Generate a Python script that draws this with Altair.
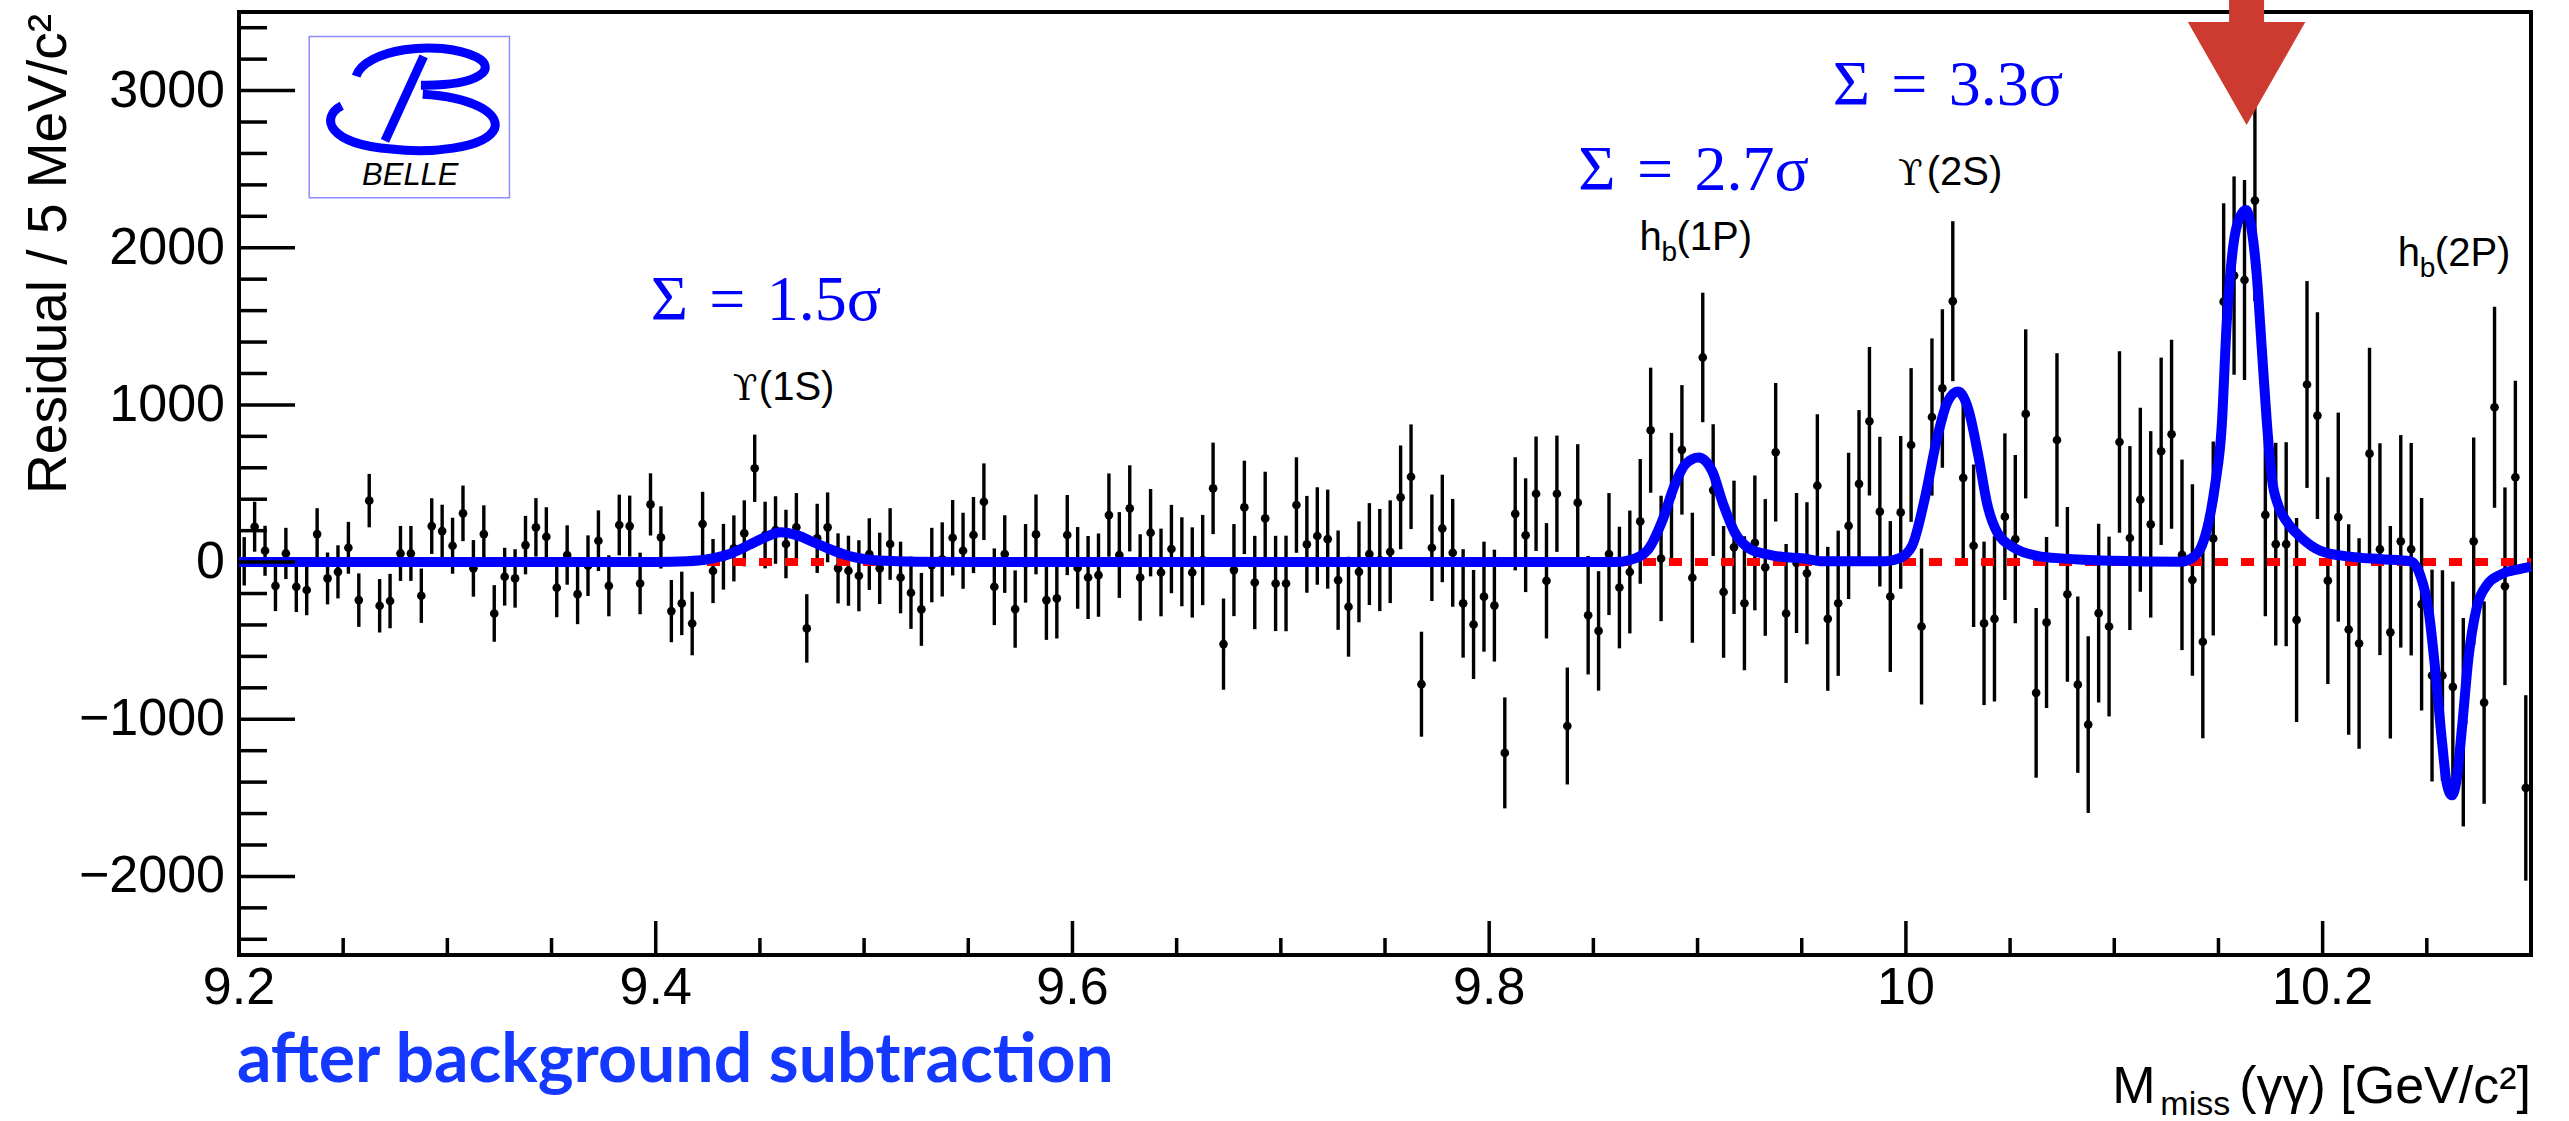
import altair as alt
import pandas as pd

# Histogram binning of the missing mass (5 MeV/c^2 bins starting at 9.2 GeV/c^2)
BIN_START = 9.2
BIN_WIDTH = 0.005

# Residual per bin after background subtraction
residual = [
    5, 225, 72, -151, 55, -157, -178, 178, -104, -62,
    91, -242, 391, -278, -248, 55, 55, -214, 229, 197,
    104, 310, -40, 178, -327, -93, -104, 108, 221, 161,
    -163, 45, -204, -23, 136, -151, 236, 229, -136, 367,
    157, -312, -263, -391, 242, -57, 34, 87, 183, 597,
    172, 204, 115, 221, -422, 151, 221, -40, -55, -87,
    51, -40, 115, -98, -195, -301, -19, 17, 155, 72,
    172, 384, -157, 51, -299, -8, 176, -242, -231, 172,
    -37, -98, -83, 299, 45, 342, -98, 187, -66, 83,
    2, -66, 13, 469, -522, -51, 348, -130, 278, -136,
    -136, 363, 113, 166, 146, -115, -284, -62, 51, 13,
    66, 412, 543, -777, 91, 214, 59, -263, -397, -220,
    -277, -1214, 307, 171, 435, -119, 435, -1043, 378, -338,
    -438, 51, -162, -63, 259, 839, 23, 420, 714, -100,
    1302, 458, -190, 94, -262, 122, -34, 699, -327, -6,
    -71, 486, -361, -262, 230, 498, 896, 321, -219, 316,
    745, -410, 923, 1105, 1660, 536, 104, -390, -361, 289,
    146, 943, -832, -384, 777, -205, -780, -1034, -325, -410,
    764, 153, 397, 240, 705, 813, 46, -114, -507, 150,
    1657, 1823, 1795, 2300, 300, 114, 114, -368, 1130, 932,
    -118, 286, -429, -518, 690, 82, -447, 132, 82, -268,
    -722, -722, -794, -1019, 132, -894, 985, -154, 540, -1437,
]

# Statistical uncertainty per bin
residual_err = [
    154, 159, 159, 161, 163, 161, 160, 165, 165, 169,
    165, 170, 170, 170, 173, 175, 175, 173, 177, 168,
    178, 177, 180, 183, 180, 184, 186, 186, 186, 188,
    188, 189, 191, 193, 193, 194, 193, 194, 196, 198,
    198, 198, 202, 202, 205, 204, 209, 210, 210, 214,
    212, 215, 218, 218, 218, 220, 222, 223, 223, 226,
    228, 227, 228, 228, 230, 232, 237, 236, 240, 242,
    242, 244, 244, 247, 246, 250, 254, 253, 255, 255,
    260, 264, 265, 265, 273, 274, 275, 278, 279, 281,
    283, 287, 287, 291, 290, 293, 297, 297, 297, 303,
    304, 304, 308, 310, 315, 316, 318, 321, 324, 325,
    327, 330, 333, 334, 339, 342, 343, 345, 347, 350,
    356, 353, 360, 362, 364, 367, 370, 372, 372, 377,
    380, 388, 387, 391, 397, 398, 399, 402, 412, 414,
    412, 419, 419, 424, 426, 429, 435, 441, 442, 445,
    452, 455, 458, 462, 465, 469, 473, 476, 480, 486,
    489, 496, 500, 504, 509, 512, 517, 520, 526, 530,
    535, 538, 540, 544, 552, 556, 561, 562, 569, 572,
    577, 585, 585, 593, 596, 601, 606, 609, 614, 617,
    626, 631, 636, 640, 645, 645, 649, 649, 658, 658,
    658, 665, 670, 670, 674, 674, 676, 676, 676, 676,
    674, 670, 670, 663, 661, 644, 640, 629, 613, 590,
]
assert len(residual) == len(residual_err)

mass = [round(BIN_START + BIN_WIDTH * (i + 0.5), 4) for i in range(len(residual))]

# Fitted signal curve (sampled)
fit_m = [
    9.200, 9.400, 9.415, 9.425, 9.435, 9.445, 9.452, 9.460, 9.468, 9.476,
    9.484, 9.492, 9.500, 9.510, 9.525, 9.550, 9.860, 9.868, 9.876, 9.883,
    9.889, 9.894, 9.9005, 9.907, 9.912, 9.918, 9.925, 9.933, 9.941, 9.950,
    9.960, 9.990, 9.997, 10.003, 10.009, 10.015, 10.020, 10.025, 10.030, 10.035,
    10.039, 10.044, 10.052, 10.063, 10.076, 10.100, 10.132, 10.137, 10.142, 10.1455,
    10.1485, 10.1515, 10.154, 10.157, 10.1604, 10.1633, 10.166, 10.1684, 10.1708, 10.1732,
    10.1756, 10.1788, 10.1828, 10.1893, 10.199, 10.212, 10.228, 10.242, 10.247, 10.251,
    10.254, 10.2573, 10.2596, 10.262, 10.2642, 10.267, 10.270, 10.274, 10.279, 10.2855,
    10.295, 10.300,
]
fit_r = [
    0, 0, 5, 18, 50, 110, 155, 190, 170, 125,
    80, 42, 20, 8, 2, 0, 0, 15, 75, 260,
    490, 620, 665, 580, 380, 185, 85, 50, 32, 25,
    5, 5, 25, 104, 400, 790, 1020, 1085, 970, 660,
    370, 185, 90, 40, 22, 8, 2, 23, 104, 266,
    500, 850, 1530, 2002, 2199, 2240, 2109, 1823, 1358, 894,
    536, 357, 257, 161, 72, 36, 18, 5, -89, -322,
    -679, -1144, -1412, -1484, -1394, -1037, -608, -286, -143, -79,
    -43, -29,
]
assert len(fit_m) == len(fit_r)

# Axis ticks
x_major = [9.2, 9.4, 9.6, 9.8, 10.0, 10.2]
x_minor = [9.25, 9.3, 9.35, 9.45, 9.5, 9.55, 9.65, 9.7, 9.75, 9.85, 9.9, 9.95,
           10.05, 10.1, 10.15, 10.25]
y_major = [-2000, -1000, 0, 1000, 2000, 3000]
y_minor = [-2400, -2200, -1800, -1600, -1400, -1200, -800, -600, -400, -200,
           200, 400, 600, 800, 1200, 1400, 1600, 1800, 2200, 2400, 2600, 2800,
           3200, 3400]

# Annotations
signif_text = ["Σ\u2004=\u20041.5σ", "Σ\u2004=\u20042.7σ", "Σ\u2004=\u20043.3σ"]
signif_m = [9.3976, 9.8428, 9.9649]
signif_r = [1541, 2369, 2911]

ups_text = ["(1S)", "(2S)"]
ups_m = [9.4370, 9.9962]
ups_paren_m = [9.4495, 10.0100]
ups_r = [1032, 2401]

hb_text = ["(1P)", "(2P)"]
hb_m = [9.8721, 10.2361]
hb_r = [1987, 1885]
hb_sub_r = [1917, 1815]

W, H = 2292, 943
XS = alt.Scale(domain=[9.2, 10.3], nice=False, zero=False)
YS = alt.Scale(domain=[-2500, 3500], nice=False, zero=False)
FONT = "Liberation Sans"
SERIF = "Liberation Serif"


def xq(field):
    return alt.X(field, type="quantitative", scale=XS, axis=None)


def yq(field):
    return alt.Y(field, type="quantitative", scale=YS, axis=None)


data = pd.DataFrame({"m": mass, "r": residual, "e": residual_err})
data["lo"] = data["r"] - data["e"]
data["hi"] = data["r"] + data["e"]

err_bars = alt.Chart(data).mark_rule(color="black", strokeWidth=3.4).encode(
    x=xq("m"), y=yq("lo"), y2="hi:Q")
points = alt.Chart(data).mark_circle(size=75, color="black", opacity=1).encode(
    x=xq("m"), y=yq("r"))

zero_df = pd.DataFrame({"m": [9.2, 10.3], "r": [0, 0]})
zero_line = alt.Chart(zero_df).mark_line(
    color="#ff0000", strokeWidth=8, strokeDash=[13, 13]).encode(x=xq("m"), y=yq("r"))

fit_df = pd.DataFrame({"m": fit_m, "r": fit_r})
fit_line = alt.Chart(fit_df).mark_line(
    color="#0000ff", strokeWidth=10, interpolate="monotone").encode(x=xq("m"), y=yq("r"))

# Inward ticks
ymaj = alt.Chart(pd.DataFrame({"v": y_major})).mark_rule(color="black", strokeWidth=3.5).encode(
    y=yq("v"), x=alt.value(0), x2=alt.value(56))
ymin = alt.Chart(pd.DataFrame({"v": y_minor})).mark_rule(color="black", strokeWidth=3.5).encode(
    y=yq("v"), x=alt.value(0), x2=alt.value(28))
xmaj = alt.Chart(pd.DataFrame({"v": x_major})).mark_rule(color="black", strokeWidth=3.5).encode(
    x=xq("v"), y=alt.value(H), y2=alt.value(H - 34))
xmin = alt.Chart(pd.DataFrame({"v": x_minor})).mark_rule(color="black", strokeWidth=3.5).encode(
    x=xq("v"), y=alt.value(H), y2=alt.value(H - 17))

# Tick labels
ylab = alt.Chart(pd.DataFrame({"v": y_major})).mark_text(
    align="right", baseline="middle", font=FONT, fontSize=52, color="black", dx=-14).encode(
    y=yq("v"), x=alt.value(0), text=alt.Text("v:Q", format="d"))
xlab = alt.Chart(pd.DataFrame({"v": x_major})).mark_text(
    align="center", baseline="top", font=FONT, fontSize=52, color="black").encode(
    x=xq("v"), y=alt.value(H + 8), text=alt.Text("v:Q", format="~g"))

# Axis titles
ytitle = alt.Chart(pd.DataFrame({"t": ["Residual / 5 MeV/c²"]})).mark_text(
    align="right", baseline="alphabetic", angle=270, font=FONT, fontSize=55,
    color="black").encode(x=alt.value(-173), y=alt.value(2), text="t:N")

xt_df = pd.DataFrame({"m": [10.099], "m2": [10.1221], "m3": [10.3]})
xt_main = alt.Chart(xt_df).mark_text(align="left", baseline="alphabetic", font=FONT,
                                     fontSize=52, color="black", text="M").encode(
    x=xq("m"), y=alt.value(1091))
xt_sub = alt.Chart(xt_df).mark_text(align="left", baseline="alphabetic", font=FONT,
                                    fontSize=34, color="black", text="miss").encode(
    x=xq("m2"), y=alt.value(1103))
xt_rest = alt.Chart(xt_df).mark_text(align="right", baseline="alphabetic", font=FONT,
                                     fontSize=52, color="black", text="(γγ) [GeV/c²]").encode(
    x=xq("m3"), y=alt.value(1091))

# Significance labels
sig_df = pd.DataFrame({"m": signif_m, "r": signif_r, "t": signif_text})
sig = alt.Chart(sig_df).mark_text(align="left", baseline="alphabetic", font=SERIF,
                                  fontSize=64, color="#0000ff").encode(
    x=xq("m"), y=yq("r"), text="t:N")

# Upsilon labels
ups_df = pd.DataFrame({"m": ups_m, "pm": ups_paren_m, "r": ups_r, "t": ups_text})
ups_sym = alt.Chart(ups_df).mark_text(align="left", baseline="alphabetic", font="DejaVu Serif",
                                      fontSize=36, color="black", text="ϒ").encode(
    x=xq("m"), y=yq("r"))
ups_lab = alt.Chart(ups_df).mark_text(align="left", baseline="alphabetic", font=FONT,
                                      fontSize=40, color="black").encode(
    x=xq("pm"), y=yq("r"), text="t:N")

# h_b labels
hb_df = pd.DataFrame({"m": hb_m, "r": hb_r, "rs": hb_sub_r, "t": hb_text})
hb_h = alt.Chart(hb_df).mark_text(align="left", baseline="alphabetic", font=FONT,
                                  fontSize=40, color="black", text="h").encode(
    x=xq("m"), y=yq("r"))
hb_b = alt.Chart(hb_df).mark_text(align="left", baseline="alphabetic", font=FONT,
                                  fontSize=28, color="black", text="b", dx=22).encode(
    x=xq("m"), y=yq("rs"))
hb_lab = alt.Chart(hb_df).mark_text(align="left", baseline="alphabetic", font=FONT,
                                    fontSize=40, color="black", dx=37).encode(
    x=xq("m"), y=yq("r"), text="t:N")

caption = alt.Chart(pd.DataFrame({"m": [9.199]})).mark_text(
    align="left", baseline="alphabetic", font="Lato",
    fontWeight="bold", fontSize=68, color="#1438ff",
    text="after background subtraction").encode(x=xq("m"), y=alt.value(1070))

# Belle logo
logo_box = alt.Chart(pd.DataFrame({"m": [9.2337], "m2": [9.3298], "r": [3344], "r2": [2318]})).mark_rect(
    fillOpacity=0, stroke="#8c8cff", strokeWidth=1.5).encode(
    x=xq("m"), x2="m2:Q", y=yq("r"), y2="r2:Q")
B_PATH = ("M -0.59 -0.26 C -0.5 -0.55 0.3 -0.68 0.75 -0.47 C 0.98 -0.35 0.8 -0.15 0.13 -0.16 "
          "M 0.15 -0.06 C 0.7 -0.03 1.0 0.15 0.95 0.32 C 0.85 0.55 0.2 0.6 -0.2 0.55 "
          "C -0.9 0.5 -1.0 0.2 -0.75 0.07 "
          "M 0.16 -0.48 L -0.27 0.46")
logo_b = alt.Chart(pd.DataFrame({"m": [9.2817], "r": [2943]})).mark_point(
    shape=B_PATH, size=32400, filled=False, stroke="#0000ff", strokeWidth=9,
    opacity=1).encode(x=xq("m"), y=yq("r"))
logo_t = alt.Chart(pd.DataFrame({"m": [9.2822], "r": [2401]})).mark_text(
    align="center", baseline="alphabetic", font=FONT, fontStyle="italic",
    fontSize=31, color="black", text="BELLE").encode(x=xq("m"), y=yq("r"))

# Arrow marking the peak
ARROW = "M -0.28 -1 L 0.28 -1 L 0.28 -0.65 L 0.94 -0.65 L 0 1 L -0.94 -0.65 L -0.28 -0.65 Z"
arrow = alt.Chart(pd.DataFrame({"m": [10.1635], "r": [3178]})).mark_point(
    shape=ARROW, size=15625, filled=True, fill="#cd3a30", strokeWidth=0,
    opacity=1).encode(x=xq("m"), y=yq("r"))

chart = alt.layer(
    err_bars, points, zero_line, fit_line,
    ymaj, ymin, xmaj, xmin, ylab, xlab, ytitle,
    sig, ups_sym, ups_lab, hb_h, hb_b, hb_lab,
    xt_main, xt_sub, xt_rest, caption,
    logo_box, logo_b, logo_t, arrow,
).properties(
    width=W, height=H,
    padding={"left": 239, "top": 12, "right": 38, "bottom": 166},
    autosize=alt.AutoSizeParams(type="none"),
).configure(background="white").configure_view(stroke="black", strokeWidth=4)

chart.save("out.html", embed_options={"renderer": "svg", "actions": False})
